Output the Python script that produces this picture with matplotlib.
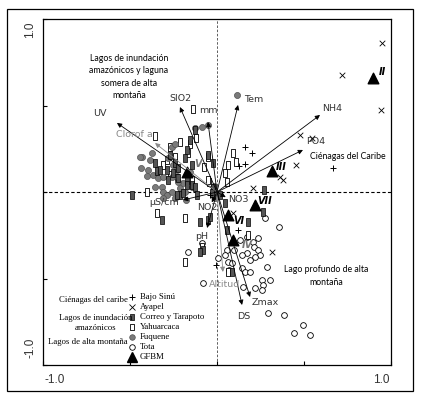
import matplotlib
matplotlib.use("Agg")
import matplotlib.pyplot as plt
from matplotlib.path import Path
from matplotlib.lines import Line2D
from matplotlib.patches import Rectangle

W, H = 423, 399

# ---------------- data (ordination scores) ----------------
fuquene_x = [-0.43, -0.385, -0.437, -0.397, -0.368, -0.339, -0.31, -0.259, -0.241, -0.253, -0.23, -0.259,
             -0.316, -0.31, -0.287, -0.259, -0.31, -0.241, -0.213, -0.195, -0.224, -0.184, -0.144,
             -0.086, -0.052, -0.126, -0.023, -0.011, -0.374, -0.443, 0.115, -0.356, -0.402, -0.155,
             -0.282, -0.178, -0.017]
fuquene_y = [0.20, 0.185, 0.139, 0.127, 0.098, 0.081, 0.087, 0.26, 0.277, 0.156, 0.127, 0.087,
             0.029, 0.0, -0.017, 0.0, -0.035, -0.035, 0.023, 0.052, 0.058, 0.0, 0.029,
             0.376, 0.387, 0.37, -0.017, -0.035, 0.225, 0.202, 0.561, 0.029, 0.092, 0.116,
             0.197, -0.046, 0.035]

yahuar_x = [-0.356, -0.213, -0.27, -0.155, -0.167, -0.241, -0.287, -0.144, -0.075, -0.046, -0.402,
            0.092, 0.063, 0.046, -0.052, 0.057, -0.27, -0.23, -0.184, -0.345, -0.184, 0.109,
            0.063, -0.31, -0.052, -0.138, -0.121, 0.178, -0.086]
yahuar_y = [0.324, 0.289, 0.26, 0.277, 0.225, 0.202, 0.185, 0.069, 0.145, 0.058, 0.0,
            0.225, 0.156, 0.11, 0.069, 0.058, 0.098, 0.081, -0.15, -0.121, -0.405, 0.173,
            -0.462, 0.156, 0.202, 0.48, 0.312, -0.249, -0.318]

correo_x = [-0.126, -0.184, -0.27, -0.356, -0.345, -0.328, -0.287, -0.241, -0.224, -0.253, -0.282,
            -0.224, -0.172, -0.172, -0.144, -0.126, -0.213, -0.195, -0.23, -0.489, -0.052, -0.023,
            -0.144, -0.023, -0.029, 0.017, -0.316, -0.098, -0.052, -0.08, 0.178, 0.264, 0.27,
            -0.115, 0.046, -0.098, 0.057, -0.172, -0.155, 0.086, -0.04]
correo_y = [0.358, 0.197, 0.214, 0.168, 0.121, 0.127, 0.127, 0.168, 0.139, 0.11, 0.069,
            0.081, 0.069, 0.04, 0.04, 0.029, -0.017, -0.006, -0.017, -0.017, 0.214, 0.168,
            0.156, 0.023, -0.006, -0.017, -0.162, -0.173, -0.162, -0.335, -0.173, -0.116, 0.012,
            -0.017, -0.064, -0.347, -0.22, 0.243, 0.301, -0.462, -0.145]

tota_x = [0.276, 0.356, 0.172, 0.207, 0.213, 0.236, 0.247, 0.218, 0.19, 0.172, 0.144, 0.057, 0.046,
          0.063, 0.144, 0.161, 0.19, 0.259, 0.264, 0.218, 0.259, 0.149, 0.287, 0.293, 0.385,
          0.494, 0.443, 0.534, 0.305, -0.08, -0.167, -0.086, 0.069, 0.098, 0.132, 0.236, 0.086,
          0.006]
tota_y = [-0.15, -0.202, -0.26, -0.289, -0.318, -0.335, -0.364, -0.376, -0.393, -0.353, -0.364,
          -0.335, -0.364, -0.405, -0.439, -0.462, -0.462, -0.509, -0.538, -0.555, -0.566, -0.549,
          -0.434, -0.699, -0.711, -0.769, -0.815, -0.827, -0.509, -0.526, -0.347, -0.295, -0.451,
          -0.335, -0.277, -0.266, -0.41, -0.382]

ayapel_x = [0.948, 0.718, 0.943, 0.477, 0.546, 0.454, 0.362, 0.379, 0.207, 0.092, 0.316]
ayapel_y = [0.861, 0.676, 0.474, 0.329, 0.312, 0.156, 0.087, 0.069, 0.023, -0.121, -0.347]

sinu_x = [0.161, 0.201, 0.126, 0.161, 0.667, 0.121, -0.006, -0.04]
sinu_y = [0.26, 0.225, 0.15, 0.162, 0.139, -0.22, -0.422, -0.017]

gfbm_labels = ["II", "III", "V", "VI", "VII", "IV"]
gfbm_x = [0.897, 0.316, -0.172, 0.063, 0.218, 0.092]
gfbm_y = [0.659, 0.121, 0.116, -0.133, -0.075, -0.277]

var_names = ["UV", "Clorof a", "SIO2", "mm", "Tem", "NH4", "PO4", "\u00b5S/cm", "NO2", "NO3",
             "pH", "Altitud", "DS", "Zmax"]
var_x = [-0.575, -0.356, -0.213, -0.052, 0.121, 0.592, 0.494, -0.195, -0.03, 0.05, -0.057, 0.034,
         0.144, 0.19]
var_y = [0.399, 0.283, 0.491, 0.405, 0.503, 0.445, 0.243, -0.046, -0.06, -0.03, -0.208, -0.462,
         -0.653, -0.607]

# ---------------- styles ----------------
var_offsets = {"UV": (-12, 7), "Clorof a": (-15, 6), "SIO2": (0, 6.5), "mm": (0, 8.5),
               "Tem": (11, 4), "NH4": (9, 5), "PO4": (9, 6), "\u00b5S/cm": (-14, -2),
               "NO2": (-3.5, -4), "NO3": (9, -2), "pH": (-4, -6), "Altitud": (1, -9),
               "DS": (1, -8), "Zmax": (11, -4)}
grey_vars = {"Clorof a", "Altitud"}
gfbm_offsets = {"II": (7, 4), "III": (7, 3), "V": (8, 6), "VI": (8, -4), "VII": (7, 3), "IV": (10, -4)}
grey_gfbm = {"V", "IV"}

rect = Path([(-0.45, -1), (0.45, -1), (0.45, 1), (-0.45, 1), (-0.45, -1)],
            [Path.MOVETO, Path.LINETO, Path.LINETO, Path.LINETO, Path.CLOSEPOLY])

fig = plt.figure(figsize=(W / 100, H / 100), dpi=100)
fig.patch.set_facecolor("white")
ax = fig.add_axes([43 / W, 1 - 365 / H, 348 / W, 346 / H])
ax.set_xlim(-1, 1)
ax.set_ylim(-1, 1)
for s in ax.spines.values():
    s.set_linewidth(0.9)
ax.set_xticks([-1, -0.5, 0, 0.5, 1])
ax.set_yticks([-1, -0.5, 0, 0.5, 1])
ax.set_xticklabels([])
ax.set_yticklabels([])
ax.tick_params(direction="in", length=3, width=0.8)

ax.axhline(0, color="black", lw=0.8, ls=(0, (3, 2)), zorder=1)
ax.axvline(0, color="#444444", lw=0.6, ls=(0, (3, 2)), zorder=1)

ax.scatter(tota_x, tota_y, marker="o", s=17, facecolor="white", edgecolor="black", lw=0.6, zorder=3)
ax.scatter(yahuar_x, yahuar_y, marker=rect, s=26, facecolor="white", edgecolor="black", lw=0.6, zorder=3)
ax.scatter(fuquene_x, fuquene_y, marker="o", s=19, facecolor="#7a7a7a", edgecolor="#505050", lw=0.5, zorder=3)
ax.scatter(correo_x, correo_y, marker=rect, s=26, facecolor="#555555", edgecolor="black", lw=0.5, zorder=3)
ax.scatter(ayapel_x, ayapel_y, marker="x", s=16, color="black", lw=0.6, zorder=3)
ax.scatter(sinu_x, sinu_y, marker="+", s=24, color="black", lw=0.7, zorder=3)
ax.scatter(gfbm_x, gfbm_y, marker="^", s=58, color="black", zorder=4)

for lab, gx, gy in zip(gfbm_labels, gfbm_x, gfbm_y):
    c = "#777777" if lab in grey_gfbm else "black"
    ax.annotate(lab, (gx, gy), xytext=gfbm_offsets[lab], textcoords="offset points",
                ha="center", va="center", fontsize=7, fontweight="bold", fontstyle="italic",
                color=c, family="DejaVu Sans", zorder=6)

for name, vx, vy in zip(var_names, var_x, var_y):
    c = "#8a8a8a" if name in grey_vars else "black"
    ax.annotate("", xy=(vx, vy), xytext=(0, 0),
                arrowprops=dict(arrowstyle="-|>", lw=0.6, color=c, mutation_scale=7,
                                shrinkA=0, shrinkB=0), zorder=5)
    tc = "#8a8a8a" if name in grey_vars else "#333333"
    ax.annotate(name, (vx, vy), xytext=var_offsets[name], textcoords="offset points",
                ha="center", va="center", fontsize=6.8, color=tc, family="DejaVu Sans", zorder=6)

# axis end labels
tk = dict(fontsize=8.5, color="#333333", family="Liberation Sans", ha="center", va="center")
fig.text(55 / W, 1 - 380 / H, "-1.0", **tk)
fig.text(381 / W, 1 - 380 / H, "1.0", **tk)
fig.text(30 / W, 1 - 30 / H, "1.0", rotation=90, **tk)
fig.text(30 / W, 1 - 348 / H, "-1.0", rotation=90, **tk)

# region labels
rl = dict(fontsize=6.3, color="black", family="Lato", ha="center", va="center", linespacing=1.45)
fig.text(129 / W, 1 - 77 / H, "Lagos de inundación\namazónicos y laguna\nsomera de alta\nmontaña", **rl)
fig.text(348 / W, 1 - 157 / H, "Ciénagas del Caribe", **rl)
fig.text(326 / W, 1 - 276 / H, "Lago profundo de alta\nmontaña", **rl)

# legend
lg = dict(fontsize=6.3, color="black", family="Liberation Serif", va="center")
fig.text(128 / W, 1 - 300 / H, "Ciénagas del caribe", ha="right", **lg)
fig.text(96 / W, 1 - 323 / H, "Lagos de inundación\namazónicos", ha="center", linespacing=1.3, **lg)
fig.text(128 / W, 1 - 342 / H, "Lagos de alta montaña", ha="right", **lg)
leg_items = [
    ("Bajo Sinú", dict(marker="+", markersize=5, color="black", mew=0.7, ls="none")),
    ("Ayapel", dict(marker="x", markersize=4, color="black", mew=0.6, ls="none")),
    ("Correo y Tarapoto", dict(marker=rect, markersize=5, markerfacecolor="#555555", markeredgecolor="black", mew=0.5, ls="none")),
    ("Yahuarcaca", dict(marker=rect, markersize=5, markerfacecolor="white", markeredgecolor="black", mew=0.6, ls="none")),
    ("Fuquene", dict(marker="o", markersize=4, markerfacecolor="#7a7a7a", markeredgecolor="#505050", mew=0.5, ls="none")),
    ("Tota", dict(marker="o", markersize=4, markerfacecolor="white", markeredgecolor="black", mew=0.6, ls="none")),
    ("GFBM", dict(marker="^", markersize=7, color="black", ls="none")),
]
for i, (lab, st) in enumerate(leg_items):
    ypx = 297 + i * 10
    fig.add_artist(Line2D([132 / W], [1 - ypx / H], transform=fig.transFigure, **st))
    fig.text(140 / W, 1 - ypx / H, lab, ha="left", **lg)

fig.add_artist(Rectangle((7 / W, 1 - 391 / H), 406 / W, 382 / H, transform=fig.transFigure,
                         fill=False, edgecolor="black", lw=0.9))

fig.savefig("out.png", dpi=100)
